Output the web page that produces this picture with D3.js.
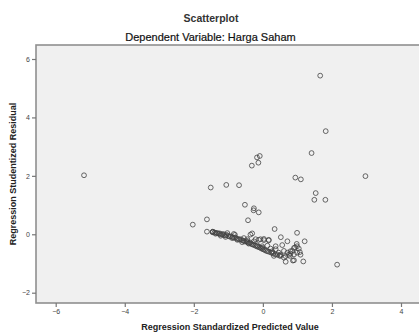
<!DOCTYPE html>
<html>
<head>
<meta charset="utf-8">
<script src="https://cdn.jsdelivr.net/npm/d3@7"></script>
<style>
  body { margin: 0; background: #fff; }
  svg { display: block; font-family: "Liberation Sans", Arial, sans-serif; }
</style>
</head>
<body>
<div id="chart"></div>
<script>
// predicted value (x) / studentized residual (y)
const predicted = [
  -5.18, 1.66, 1.82, 1.41, 0.94, 1.10, 2.97,
  -0.09, -0.17, -0.13, -0.32,
  -1.51, -1.06, -0.69, 1.53, 1.49, 1.81,
  -0.52, -0.26, -0.27, -0.12, -1.62, -0.43,
  -2.03, -1.62, -1.45, -0.81, -0.31,
  0.34, 0.99, 0.52, 0.71, 1.21, 0.56, 0.98, 0.93, 1.07,
  0.32, 0.80, 0.78, 0.66, 0.87, 1.17, 2.15, 0.46, 0.61, 0.51, 0.61,
  -1.45, -1.40, -1.36, -1.32, -1.28, -1.25, -1.22, -1.18, -1.15, -1.12,
  -1.08, -1.05, -1.00, -0.96, -0.92, -0.88, -0.84, -0.80, -0.76, -0.72,
  -0.68, -0.64, -0.60, -0.56, -0.52, -0.48, -0.44, -0.40, -0.36, -0.33,
  -0.30, -0.26, -0.22, -0.18, -0.14, -0.10, -0.06, -0.02, 0.02, 0.06,
  0.10, 0.14, 0.18, 0.24, 0.30, 0.36, 0.42, 0.48,
  -0.45, -0.21, -0.45, -0.07, 0.03, 0.17, -0.16, -0.02, 0.22, 0.37, 0.27,
  0.85, 0.90, 0.99, 0.71, 1.04,
  -1.46, -1.37, -1.22, -1.08, -0.84, -0.89, -0.55, -0.36, -0.60, -0.41,
  -0.26, -0.12, 0.03, 0.17, -0.02, 0.13, 0.27, 0.37, 0.51, 0.66,
  0.75, 0.80, 0.90, 0.99, 0.90, 1.09, -0.74, -1.03
];
const residual = [
  2.02, 5.43, 3.53, 2.78, 1.94, 1.88, 1.99,
  2.68, 2.63, 2.45, 2.35,
  1.60, 1.69, 1.68, 1.41, 1.18, 1.18,
  1.01, 0.89, 0.82, 0.75, 0.51, 0.48,
  0.33, 0.09, 0.09, -0.02, 0.03,
  0.18, 0.05, -0.10, -0.24, -0.24, -0.37, -0.33, -0.45, -0.61,
  -0.74, -0.66, -0.74, -0.94, -0.90, -0.93, -1.04, -0.63, -0.57, -0.74, -0.80,
  0.08, 0.06, 0.05, 0.04, 0.02, 0.03, 0.00, -0.01, 0.01, -0.03,
  -0.04, -0.02, -0.06, -0.08, -0.07, -0.10, -0.12, -0.11, -0.15, -0.16,
  -0.18, -0.17, -0.21, -0.22, -0.25, -0.24, -0.28, -0.30, -0.29, -0.33,
  -0.35, -0.36, -0.39, -0.41, -0.43, -0.45, -0.47, -0.50, -0.52, -0.54,
  -0.57, -0.58, -0.60, -0.63, -0.66, -0.69, -0.70, -0.73,
  -0.23, -0.17, -0.17, -0.17, -0.20, -0.21, -0.38, -0.46, -0.49, -0.51, -0.63,
  -0.57, -0.69, -0.63, -0.63, -0.49,
  0.07, 0.02, -0.05, -0.09, 0.01, -0.13, -0.13, -0.01, -0.27, -0.32,
  -0.24, -0.19, -0.16, -0.19, -0.41, -0.39, -0.58, -0.41, -0.70, -0.75,
  -0.70, -0.58, -0.47, -0.41, -0.89, -0.70, -0.19, 0.04
];
const xTicks = [-6, -4, -2, 0, 2, 4];
const yTicks = [-2, 0, 2, 4, 6];

const width = 419;
const height = 333;

const svg = d3.select('#chart')
  .append('svg')
  .attr('width', width)
  .attr('height', height);

const x = d3.scaleLinear().domain([-6, 4]).range([55.7, 401]);
const y = d3.scaleLinear().domain([-2, 6]).range([292.7, 59]);

// plot area
const plotLeft = 36, plotTop = 45, plotBottom = 303;
svg.append('rect')
  .attr('x', plotLeft)
  .attr('y', plotTop)
  .attr('width', width + 20 - plotLeft)
  .attr('height', plotBottom - plotTop)
  .attr('fill', '#f0f0f0')
  .attr('stroke', '#8f8f8f')
  .attr('stroke-width', 1.6);

// titles
svg.append('text')
  .attr('x', 211)
  .attr('y', 22)
  .attr('text-anchor', 'middle')
  .style('font-size', '10.5px')
  .style('font-weight', 'bold')
  .style('fill', '#333')
  .text('Scatterplot');

svg.append('text')
  .attr('x', 210.5)
  .attr('y', 41)
  .attr('text-anchor', 'middle')
  .style('font-size', '11px')
  .style('fill', '#111')
  .style('stroke', '#111')
  .style('stroke-width', 0.2)
  .text('Dependent Variable: Harga Saham');

// axes
const xAxis = svg.append('g')
  .attr('transform', `translate(0, ${plotBottom})`)
  .call(d3.axisBottom(x).tickValues(xTicks).tickSize(4).tickPadding(2));
const yAxis = svg.append('g')
  .attr('transform', `translate(${plotLeft}, 0)`)
  .call(d3.axisLeft(y).tickValues(yTicks).tickSize(4).tickPadding(2));

[xAxis, yAxis].forEach(a => {
  a.select('.domain').remove();
  a.selectAll('line').attr('stroke', '#777').attr('stroke-width', 1.2);
  a.selectAll('text')
    .style('font-size', '7px')
    .style('fill', '#444')
    .style('font-family', '"Liberation Sans", Arial, sans-serif');
});

// axis titles
svg.append('text')
  .attr('x', 230)
  .attr('y', 330)
  .attr('text-anchor', 'middle')
  .style('font-size', '9px')
  .style('font-weight', 'bold')
  .style('fill', '#222')
  .text('Regression Standardized Predicted Value');

svg.append('text')
  .attr('transform', 'translate(16, 174) rotate(-90)')
  .attr('text-anchor', 'middle')
  .style('font-size', '9px')
  .style('font-weight', 'bold')
  .style('fill', '#222')
  .text('Regression Studentized Residual');

// points
svg.append('g')
  .selectAll('circle')
  .data(d3.zip(predicted, residual))
  .enter()
  .append('circle')
  .attr('cx', d => x(d[0]))
  .attr('cy', d => y(d[1]))
  .attr('r', 2.4)
  .attr('fill', 'none')
  .attr('stroke', '#444')
  .attr('stroke-opacity', 0.8)
  .attr('stroke-width', 1);
</script>
</body>
</html>
